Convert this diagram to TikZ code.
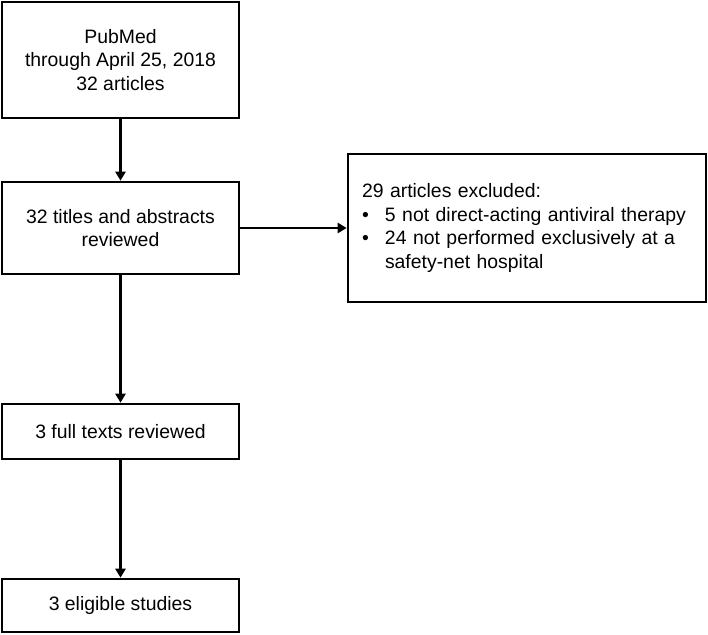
\documentclass[tikz,border=0pt]{standalone}
\usepackage{fontspec}
\setmainfont{Liberation Sans}
\usetikzlibrary{arrows.meta}
\begin{document}
\begin{tikzpicture}[x=1pt,y=-1pt,
  box/.style={draw=black, line width=2.6pt, align=center, inner sep=0pt,
    font=\fontsize{19.4}{23.5}\selectfont},
  arr/.style={line width=2.4pt, -{Triangle[length=9pt,width=10pt]}}]
\useasboundingbox (0,0) rectangle (708,634);
\node[box, minimum width=237pt, minimum height=116pt] (b1) at (120.5,60) {PubMed\\through April 25, 2018\\32 articles};
\node[box, minimum width=237pt, minimum height=92pt] (b2) at (120.5,228) {32 titles and abstracts\\reviewed};
\node[box, minimum width=358pt, minimum height=148pt, text width=330pt, align=left] (b3) at (527,228) {29 articles excluded:\\\makebox[23pt][l]{•}5 not direct-acting antiviral therapy\\\makebox[23pt][l]{•}24 not performed exclusively at a\\\hspace*{23pt}safety-net hospital};
\node[box, minimum width=237pt, minimum height=55pt] (b4) at (120.5,431.5) {3 full texts reviewed};
\node[box, minimum width=237pt, minimum height=53pt] (b5) at (120.5,605.5) {3 eligible studies};
\draw[arr] (b1) -- (b2);
\draw[arr] (b2) -- (b3);
\draw[arr] (b2) -- (b4);
\draw[arr] (b4) -- (b5);
\end{tikzpicture}
\end{document}
